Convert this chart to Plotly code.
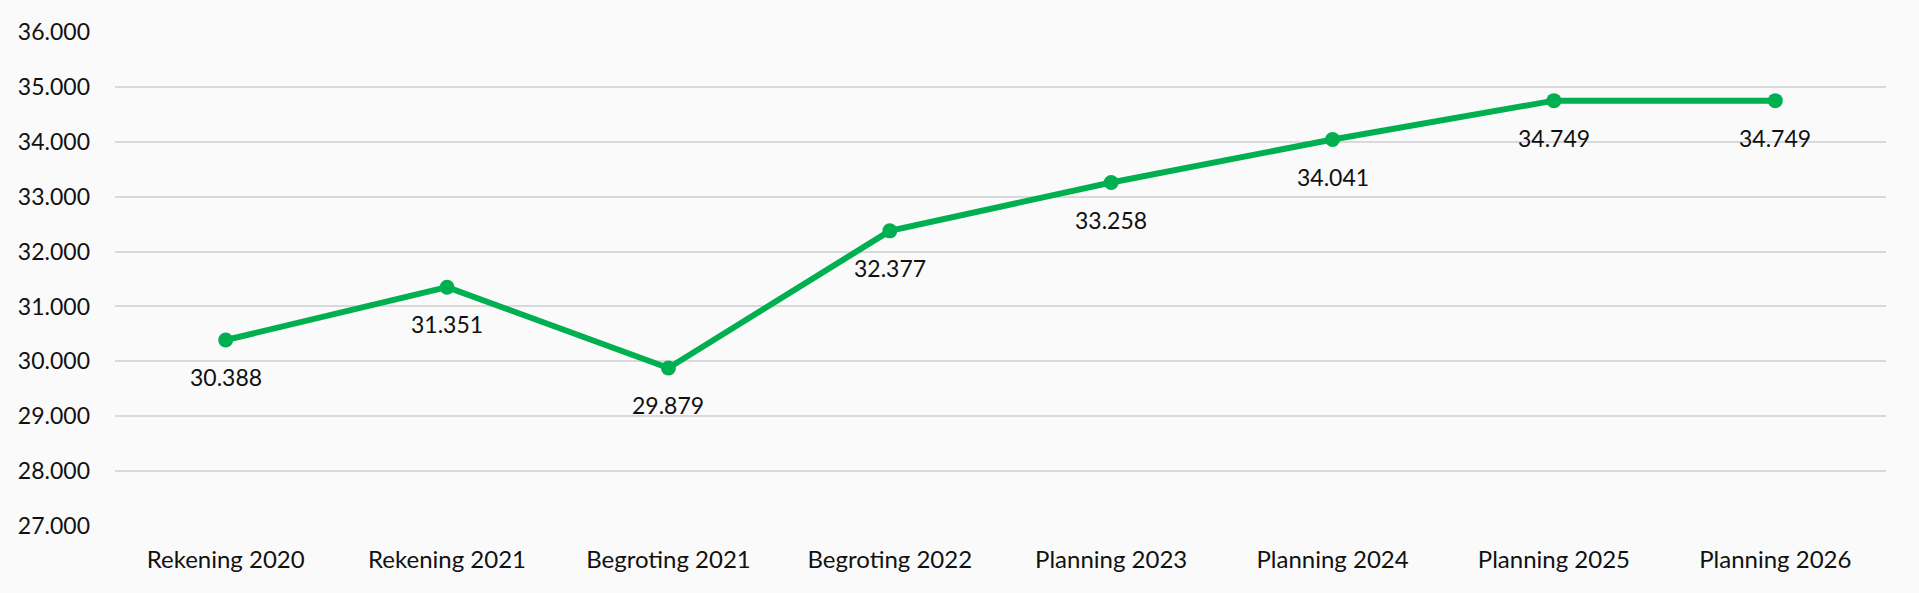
import plotly.graph_objects as go

categories = ["Rekening 2020", "Rekening 2021", "Begroting 2021", "Begroting 2022",
              "Planning 2023", "Planning 2024", "Planning 2025", "Planning 2026"]
values = [30388, 31351, 29879, 32377, 33258, 34041, 34749, 34749]
value_labels = ["30.388", "31.351", "29.879", "32.377", "33.258", "34.041", "34.749", "34.749"]
y_ticks = [27000, 28000, 29000, 30000, 31000, 32000, 33000, 34000, 35000, 36000]
y_tick_labels = ["27.000", "28.000", "29.000", "30.000", "31.000", "32.000",
                 "33.000", "34.000", "35.000", "36.000"]

GREEN = "#00b050"
FONT = "Lato, Carlito, Calibri, sans-serif"
TXT = "#111111"

fig = go.Figure()
fig.add_trace(go.Scatter(
    x=categories, y=values, mode="lines+markers",
    line=dict(color=GREEN, width=6),
    marker=dict(color=GREEN, size=15),
    hoverinfo="skip", showlegend=False, cliponaxis=False,
))

for c, v, t in zip(categories, values, value_labels):
    fig.add_annotation(x=c, y=v, text=t, showarrow=False, yshift=-37,
                       font=dict(family=FONT, size=23, color=TXT))

fig.update_layout(
    width=1919, height=593,
    margin=dict(l=115, r=33, t=32, b=67),
    paper_bgcolor="#fafafa", plot_bgcolor="#fafafa",
    font=dict(family=FONT, size=23, color=TXT),
    xaxis=dict(type="category", showgrid=False, zeroline=False, showline=False,
               ticks="", ticklabelstandoff=17, range=[-0.5, 7.5],
               tickfont=dict(family=FONT, size=24, color=TXT)),
    yaxis=dict(range=[27000, 36000], tickvals=y_ticks, ticktext=y_tick_labels,
               showgrid=True, gridcolor="#d9d9d9", gridwidth=1.5, zeroline=False,
               showline=False, ticks="", ticklabelstandoff=24,
               tickfont=dict(family=FONT, size=23, color=TXT)),
)

fig.write_html("out.html",
               config={"displayModeBar": False},
               post_script="document.body.style.margin='0';document.body.style.background='#fafafa';")
